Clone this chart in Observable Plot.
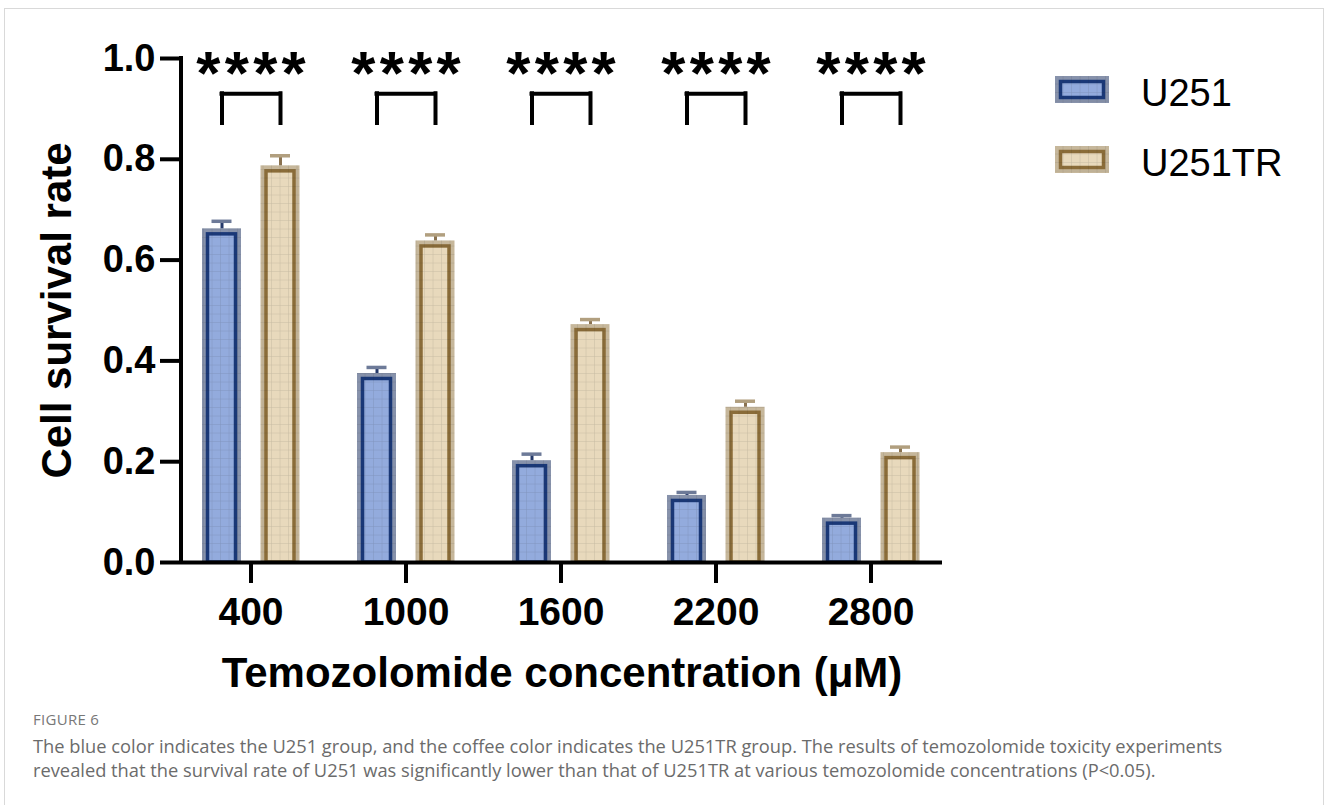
<!DOCTYPE html>
<html>
<head>
<meta charset="utf-8">
<script src="https://cdn.jsdelivr.net/npm/d3@7"></script>
<script src="https://cdn.jsdelivr.net/npm/@observablehq/plot@0.6"></script>
<style>
  html, body { margin: 0; padding: 0; background: #fff; }
  body { width: 1328px; height: 805px; position: relative; overflow: hidden; }
  #frame { position: absolute; left: 4px; top: 8px; width: 1320px; height: 900px; border: 1px solid #d9d9d9; box-sizing: border-box; }
  #chart { position: absolute; left: 0; top: 0; }
  #defs { position: absolute; left: 0; top: 0; width: 0; height: 0; }
  #legend { position: absolute; left: 1040px; top: 60px; }
  #caption { position: absolute; left: 33px; top: 709px; font-family: "Open Sans", sans-serif; color: #6b6b6b; }
  #caption .fig { font-size: 15px; line-height: 20px; letter-spacing: 0.3px; color: #777; }
  #caption .text { margin-top: 5px; font-size: 18.3px; line-height: 24px; white-space: nowrap; }
</style>
</head>
<body>
<div id="frame"></div>
<svg id="defs"></svg>
<div id="chart"></div>
<svg id="legend" width="288" height="140"></svg>
<div id="caption">
  <div class="fig">FIGURE 6</div>
  <div class="text">The blue color indicates the U251 group, and the coffee color indicates the U251TR group. The results of temozolomide toxicity experiments<br>revealed that the survival rate of U251 was significantly lower than that of U251TR at various temozolomide concentrations (P&lt;0.05).</div>
</div>
<script>
// Temozolomide concentrations (µM) on the x axis
const concentrations = [400, 1000, 1600, 2200, 2800];

// Mean cell survival rate and error (upper bar) per group
const u251Values = [0.662, 0.375, 0.202, 0.133, 0.088];
const u251Errors = [0.015, 0.012, 0.013, 0.006, 0.005];
const u251trValues = [0.787, 0.638, 0.472, 0.308, 0.218];
const u251trErrors = [0.020, 0.012, 0.010, 0.012, 0.011];

// Significance marks above each pair
const significance = ["****", "****", "****", "****", "****"];

const yTicks = [0, 0.2, 0.4, 0.6, 0.8, 1.0];
const seriesNames = ["U251", "U251TR"];

// Series styling: outer translucent band, inner border, light fill, error cap
const styles = {
  U251:   {band: "#76839f", border: "#1a3877", fill: "#93abdd", cap: "#6d7a98", stem: "#24396a", offset: -29},
  U251TR: {band: "#bead8d", border: "#8a6c39", fill: "#e8d9bc", cap: "#b19f7f", stem: "#8a7250", offset: 29.5}
};

const rows = seriesNames.flatMap((s) => {
  const vals = s === "U251" ? u251Values : u251trValues;
  const errs = s === "U251" ? u251Errors : u251trErrors;
  return concentrations.map((c, i) => ({conc: c, series: s, value: vals[i], top: vals[i] + errs[i]}));
});
const sigRows = concentrations.map((c, i) => ({conc: c, label: significance[i]}));

// Shared grid-texture pattern for the bars and legend swatches
const defs = d3.select("#defs").append("defs");
const pat = defs.append("pattern").attr("id", "grid").attr("patternUnits", "userSpaceOnUse")
  .attr("width", 8.5).attr("height", 8.5);
pat.append("path").attr("d", "M8.5 0V8.5M0 8.5H8.5").attr("fill", "none")
  .attr("stroke", "rgba(30,30,30,0.16)").attr("stroke-width", 1);

const W = 1328, H = 700;
const bandStep = 155, halfBand = bandStep / 2, halfBar = 19.5, halfCap = 10, innerInset = 5.5;
const bracketTop = 0.93, bracketBottom = 0.871, starLevel = 0.93, starSpacing = 4.3;

const marks = [];
for (const s of seriesNames) {
  const st = styles[s];
  const data = rows.filter((d) => d.series === s);
  const inL = halfBand + st.offset - halfBar;
  const inR = halfBand - st.offset - halfBar;
  marks.push(
    Plot.barY(data, {x: "conc", y: "value", fill: st.band, fillOpacity: 0.88, insetLeft: inL, insetRight: inR}),
    Plot.barY(data, {x: "conc", y: "value", fill: st.fill, stroke: st.border, strokeWidth: 3.5,
      insetLeft: inL + innerInset, insetRight: inR + innerInset, insetTop: innerInset}),
    Plot.barY(data, {x: "conc", y: "value", fill: "url(#grid)", insetLeft: inL, insetRight: inR}),
    Plot.ruleX(data, {x: "conc", y1: "value", y2: "top", dx: st.offset, stroke: st.stem, strokeWidth: 3}),
    Plot.tickY(data, {x: "conc", y: "top", stroke: st.cap, strokeWidth: 3.5,
      insetLeft: halfBand + st.offset - halfCap, insetRight: halfBand - st.offset - halfCap})
  );
}

// Significance brackets and stars
marks.push(
  Plot.ruleY(sigRows, {x1: "conc", x2: "conc", y: () => bracketTop, stroke: "black", strokeWidth: 4,
    strokeLinecap: "square", insetLeft: halfBand + styles.U251.offset, insetRight: halfBand - styles.U251TR.offset}),
  Plot.ruleX(sigRows, {x: "conc", y1: () => bracketBottom, y2: () => bracketTop, dx: styles.U251.offset,
    stroke: "black", strokeWidth: 4, strokeLinecap: "square"}),
  Plot.ruleX(sigRows, {x: "conc", y1: () => bracketBottom, y2: () => bracketTop, dx: styles.U251TR.offset,
    stroke: "black", strokeWidth: 4, strokeLinecap: "square"}),
  Plot.text(sigRows, {x: "conc", y: () => starLevel, text: "label", fontSize: 62, fontWeight: "bold",
    lineAnchor: "bottom", fill: "black", dx: starSpacing / 2})
);

// Axes
marks.push(
  Plot.ruleY([0], {stroke: "black", strokeWidth: 4}),
  (index, scales, values, dimensions) => {
    const y = scales.y;
    return d3.create("svg:line")
      .attr("x1", dimensions.marginLeft).attr("x2", dimensions.marginLeft)
      .attr("y1", y(0)).attr("y2", y(1) - 2)
      .attr("stroke", "black").attr("stroke-width", 4).node();
  },
  Plot.axisY({ticks: yTicks, tickSize: 21, tickPadding: 5, strokeWidth: 4, fontSize: 38, fontWeight: "bold",
    tickFormat: d3.format(".1f"), label: null, color: "black"}),
  Plot.axisX({tickSize: 21, tickPadding: 14, strokeWidth: 4, fontSize: 39, fontWeight: "bold",
    tickFormat: (d) => String(d), label: null, color: "black"}),
  Plot.text(["Cell survival rate"], {frameAnchor: "left", rotate: -90, dx: -124, textAnchor: "middle",
    lineAnchor: "middle", fontSize: 42, fontWeight: "bold", fill: "black"}),
  Plot.text(["Temozolomide concentration (μM)"], {frameAnchor: "bottom", dy: 111, textAnchor: "middle",
    lineAnchor: "middle", fontSize: 42, fontWeight: "bold", fill: "black"})
);

const chart = Plot.plot({
  width: W,
  height: H,
  marginTop: 58,
  marginBottom: H - 562,
  marginLeft: 181,
  marginRight: W - 942,
  style: {fontFamily: "'Liberation Sans', Arial, sans-serif", background: "transparent", color: "black"},
  x: {type: "band", domain: concentrations, range: [172.5, 172.5 + bandStep * concentrations.length], padding: 0, axis: null},
  y: {domain: [0, 1], axis: null},
  marks
});
document.getElementById("chart").appendChild(chart);

// Star glyphs get explicit letter spacing
d3.select(chart).selectAll("text").filter(function () { return this.textContent === "****"; })
  .style("letter-spacing", `${starSpacing}px`);

// Legend
const legend = d3.select("#legend");
seriesNames.forEach((s, i) => {
  const st = styles[s];
  const g = legend.append("g").attr("transform", `translate(15,${16 + i * 70})`);
  g.append("rect").attr("width", 54).attr("height", 27).attr("fill", st.band).attr("fill-opacity", 0.88);
  g.append("rect").attr("x", innerInset).attr("y", innerInset).attr("width", 54 - 2 * innerInset)
    .attr("height", 27 - 2 * innerInset).attr("fill", st.fill).attr("stroke", st.border).attr("stroke-width", 3.5);
  g.append("rect").attr("width", 54).attr("height", 27).attr("fill", "url(#grid)");
  g.append("text").attr("x", 86).attr("y", 29.5).attr("font-family", "'Liberation Sans', Arial, sans-serif")
    .attr("font-size", 38).attr("fill", "black").text(s);
});
</script>
</body>
</html>
